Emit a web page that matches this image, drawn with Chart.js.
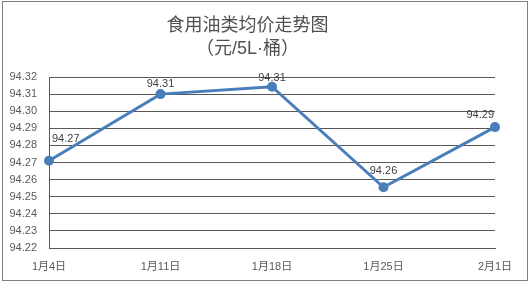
<!DOCTYPE html>
<html lang="zh">
<head>
  <meta charset="UTF-8" />
  <title>食用油类均价走势图</title>
  <script src="https://cdn.jsdelivr.net/npm/chart.js"></script>
  <style>
    html, body { margin: 0; padding: 0; background: #fff; }
    #wrap { width: 530px; height: 283px; position: relative; }
  </style>
</head>
<body>
  <div id="wrap"><canvas id="chart" width="530" height="283"></canvas></div>

  <script>
    const dates = ['1月4日', '1月11日', '1月18日', '1月25日', '2月1日'];
    const prices = [94.271, 94.310, 94.3143, 94.2555, 94.2907];
    const titleLines = ['食用油类均价走势图', '（元/5L·桶）'];
    const yMin = 94.22, yMax = 94.32, yStep = 0.01;

    const FONT = '"Liberation Sans", "Noto Sans CJK SC", sans-serif';
    // how far each value label sits above its point (px)
    const labelLift = [16, 5, 3, 11, 7];

    // outer frame + value labels
    const extras = {
      id: 'extras',
      afterDraw(chart) {
        const ctx = chart.ctx;
        ctx.save();
        ctx.strokeStyle = '#7f7f7f';
        ctx.lineWidth = 1;
        ctx.strokeRect(2.5, 1.5, 525, 279);

        const area = chart.chartArea;
        const meta = chart.getDatasetMeta(0);
        ctx.font = '11px ' + FONT;
        ctx.fillStyle = '#404040';
        ctx.textAlign = 'center';
        ctx.textBaseline = 'bottom';
        meta.data.forEach((pt, i) => {
          const txt = prices[i].toFixed(2);
          const w = ctx.measureText(txt).width;
          let x = Math.min(Math.max(pt.x, area.left + w / 2 + 3), area.right - w / 2 - 1);
          ctx.fillText(txt, x, pt.y - labelLift[i]);
        });
        ctx.restore();
      }
    };

    new Chart(document.getElementById('chart'), {
      type: 'line',
      data: {
        labels: dates,
        datasets: [{
          data: prices,
          borderColor: '#4a7ebb',
          backgroundColor: '#4a7ebb',
          borderWidth: 3,
          pointRadius: 3.5,
          pointHoverRadius: 3.5,
          tension: 0
        }]
      },
      options: {
        responsive: false,
        animation: false,
        layout: { padding: { top: 0, right: 35, bottom: 0, left: 0 } },
        plugins: {
          legend: { display: false },
          tooltip: { enabled: false },
          title: {
            display: true,
            text: titleLines,
            color: '#505050',
            font: { family: FONT, size: 18, weight: 'normal', lineHeight: 1.25 },
            padding: { top: 15, bottom: 17 }
          }
        },
        scales: {
          x: {
            offset: false,
            grid: { display: false, drawTicks: true },
            border: { color: '#595959' },
            ticks: { color: '#595959', font: { family: FONT, size: 11 }, padding: 4, maxRotation: 0 },
            afterFit(s) { s.height = 35; }
          },
          y: {
            min: yMin,
            max: yMax,
            grid: { color: '#595959', drawTicks: false },
            border: { color: '#595959' },
            ticks: {
              stepSize: yStep,
              color: '#595959',
              padding: 12,
              font: { family: FONT, size: 11 },
              callback: v => Number(v).toFixed(2)
            },
            afterFit(s) { s.width = 49; }
          }
        }
      },
      plugins: [extras]
    });
  </script>
</body>
</html>
